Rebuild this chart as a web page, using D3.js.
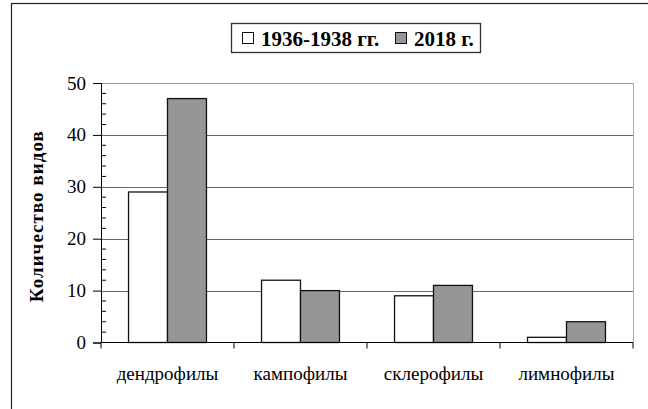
<!DOCTYPE html>
<meta charset="utf-8">
<style>
body { margin: 0; background: #fff; }
svg { display: block; font-family: 'Liberation Serif', 'Times New Roman', serif; }
svg text { font-family: 'Liberation Serif', 'Times New Roman', serif; }
.tick text { font-size: 19px; fill: #000; }
.legend text { font-size: 21px; font-weight: bold; }
</style>
<body>
<svg width="648" height="409"></svg>
<script src="https://d3js.org/d3.v7.min.js"></script>
<script>
// data
var categories = ["дендрофилы", "кампофилы", "склерофилы", "лимнофилы"];
var seriesNames = ["1936-1938 гг.", "2018 г."];
var values1936 = [29, 12, 9, 1];
var values2018 = [47, 10, 11, 4];
var yTicks = [0, 10, 20, 30, 40, 50];

var colors = ["#ffffff", "#969696"];

var svg = d3.select("svg");

// outer chart border (runs off right and bottom edges)
svg.append("rect")
    .attr("x", 11.5).attr("y", 3.5)
    .attr("width", 700).attr("height", 500)
    .attr("fill", "none")
    .attr("stroke", "#222")
    .attr("stroke-width", 1.2);

var plot = {left: 101, right: 633, top: 83, bottom: 342.5};

var y = d3.scaleLinear().domain([0, 50]).range([plot.bottom, plot.top]);
var x0 = d3.scaleBand().domain(categories).range([plot.left, plot.right]);
var gap = x0.bandwidth() * 0.207;
var x1 = d3.scaleBand().domain(seriesNames).range([gap, x0.bandwidth() - gap]);

// gridlines
svg.append("g")
    .selectAll("line")
    .data(yTicks.filter(function(d) { return d > 0; }))
    .join("line")
    .attr("x1", plot.left).attr("x2", plot.right)
    .attr("y1", function(d) { return Math.round(y(d)) + 0.5; })
    .attr("y2", function(d) { return Math.round(y(d)) + 0.5; })
    .attr("stroke", function(d) { return d === 50 ? "#999" : "#6a6a6a"; })
    .attr("stroke-width", 1);

// plot area right border
svg.append("line")
    .attr("x1", plot.right + 0.5).attr("x2", plot.right + 0.5)
    .attr("y1", plot.top).attr("y2", plot.bottom)
    .attr("stroke", "#aaa");

// bars
var rows = categories.map(function(c, i) {
  return {cat: c, vals: [values1936[i], values2018[i]]};
});

svg.append("g")
    .selectAll("g")
    .data(rows)
    .join("g")
    .attr("transform", function(d) { return "translate(" + x0(d.cat) + ",0)"; })
    .selectAll("rect")
    .data(function(d) { return d.vals.map(function(v, j) { return {name: seriesNames[j], v: v, j: j}; }); })
    .join("rect")
    .attr("x", function(d) { return x1(d.name); })
    .attr("y", function(d) { return y(d.v); })
    .attr("width", x1.bandwidth())
    .attr("height", function(d) { return y(0) - y(d.v); })
    .attr("fill", function(d) { return colors[d.j]; })
    .attr("stroke", "#111")
    .attr("stroke-width", 1.3);

// y axis
var yAxis = svg.append("g")
    .attr("transform", "translate(" + plot.left + ",0)")
    .call(d3.axisLeft(y).tickValues(yTicks).tickSize(8).tickPadding(7))
    .attr("font-family", null).attr("font-size", null);
yAxis.select(".domain").attr("stroke", "#000");
yAxis.selectAll(".tick line").attr("stroke", "#000");

// minor ticks inside
svg.append("g")
    .selectAll("line")
    .data(d3.range(0, 51, 2).filter(function(d) { return d % 10 !== 0; }))
    .join("line")
    .attr("x1", plot.left).attr("x2", plot.left + 5)
    .attr("y1", function(d) { return y(d); })
    .attr("y2", function(d) { return y(d); })
    .attr("stroke", "#000");

// x axis
var xAxis = svg.append("g")
    .attr("transform", "translate(0," + plot.bottom + ")")
    .call(d3.axisBottom(x0).tickSize(0).tickPadding(24))
    .attr("font-family", null).attr("font-size", null);
xAxis.select(".domain").attr("stroke", "#000").attr("d", "M" + plot.left + ",0H" + plot.right);
xAxis.selectAll(".tick text").attr("dy", "0.71em");

// category separator ticks
svg.append("g")
    .selectAll("line")
    .data(categories.concat(["end"]))
    .join("line")
    .attr("x1", function(d, i) { return i < categories.length ? x0(d) : plot.right; })
    .attr("x2", function(d, i) { return i < categories.length ? x0(d) : plot.right; })
    .attr("y1", plot.bottom).attr("y2", plot.bottom + 6)
    .attr("stroke", "#000");

// y axis title
svg.append("text")
    .attr("transform", "translate(43," + ((plot.top + plot.bottom) / 2 + 4) + ") rotate(-90)")
    .attr("text-anchor", "middle")
    .attr("font-size", 19)
    .attr("font-weight", "bold")
    .attr("textLength", 171)
    .attr("lengthAdjust", "spacing")
    .text("Количество видов");

// legend
var legend = svg.append("g").attr("class", "legend");
legend.append("rect")
    .attr("x", 231.5).attr("y", 23.5)
    .attr("width", 249).attr("height", 29)
    .attr("fill", "#fff")
    .attr("stroke", "#333")
    .attr("stroke-width", 1.3);

var legendX = [242, 395];
var items = legend.selectAll("g.item")
    .data(seriesNames)
    .join("g")
    .attr("class", "item")
    .attr("transform", function(d, i) { return "translate(" + legendX[i] + ",0)"; });
items.append("rect")
    .attr("x", 0.5).attr("y", 32.5)
    .attr("width", 11).attr("height", 11)
    .attr("fill", function(d, i) { return colors[i]; })
    .attr("stroke", "#111");
items.append("text")
    .attr("x", 19).attr("y", 45.5)
    .text(function(d) { return d; });
</script>
</body>
